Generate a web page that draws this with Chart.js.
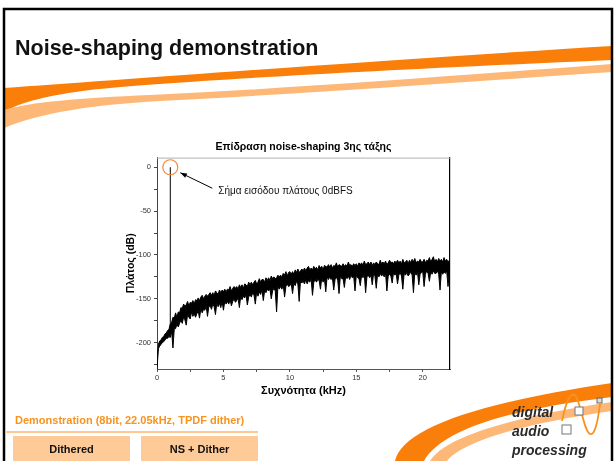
<!DOCTYPE html>
<html lang="el">
<head>
<meta charset="UTF-8">
<title>Noise-shaping demonstration</title>
<script src="https://cdn.jsdelivr.net/npm/chart.js"></script>
<style>
  body { margin: 0; background: #fff; }
  #slide { position: relative; width: 614px; height: 461px; overflow: hidden; background: #fff;
           font-family: "Liberation Sans", Arial, sans-serif; }
  #deco, #chart { position: absolute; left: 0; top: 0; }
  .txt { position: absolute; line-height: 1; white-space: nowrap; }
  #heading { left: 15px; top: 38px; font-size: 21.5px; font-weight: bold; color: #111; }
  #demo { left: 15px; top: 415px; font-size: 11px; font-weight: bold; color: #f7931e; }
  #rule { position: absolute; left: 5px; top: 431px; width: 253px; height: 2px; background: #fdc896; }
  .btn { position: absolute; top: 436px; height: 26px; width: 117px; background: #fdca98;
         display: flex; align-items: center; justify-content: center;
         font-size: 11px; font-weight: bold; color: #111; }
  .logo { position: absolute; left: 512px; font-size: 14px; font-style: italic; font-weight: bold;
          color: #2b2b2b; line-height: 1; }
</style>
</head>
<body>
<div id="slide">
  <svg id="deco" width="614" height="461">
    <!-- top swoosh -->
    <path d="M4,88 C120,80 350,62 612,46 L612,60 C380,70 160,82 90,90 C50,95 20,102 4,112 Z" fill="#fa7f0a"/>
    <path d="M4,110 C30,102 80,98 150,95 C300,88 450,76 612,64 L612,72 C450,83 300,94 160,101 C90,105 40,113 4,128 Z" fill="#fdb878"/>
    <!-- bottom right swoosh -->
    <path d="M395,461 C402,430 470,404 612,383 L612,397 C505,410 442,430 424,461 Z" fill="#fa7f0a"/>
    <path d="M430,461 C444,438 505,418 612,402 L612,411 C520,424 462,442 447,461 Z" fill="#fdb878"/>
    <!-- logo icon -->
    <path d="M562,421 C566,402 570,392 575,395 C580,399 584,432 590,434 C595,436 598,420 600,404" fill="none" stroke="#f7931e" stroke-width="1.8"/>
    <rect x="575" y="407" width="8" height="8" fill="#fff" stroke="#777" stroke-width="1"/>
    <rect x="562" y="425" width="9" height="9" fill="#fff" stroke="#777" stroke-width="1"/>
    <rect x="597" y="398" width="5" height="5" fill="#ddd" stroke="#666" stroke-width="1"/>
    <!-- slide frame -->
    <rect x="4" y="9" width="608" height="460" fill="none" stroke="#000" stroke-width="2.5"/>
  </svg>
  <canvas id="chart" width="614" height="461"></canvas>
  <div class="txt" id="heading">Noise-shaping demonstration</div>
  <div class="txt" id="demo">Demonstration (8bit, 22.05kHz, TPDF dither)</div>
  <div id="rule"></div>
  <div class="btn" style="left:13px">Dithered</div>
  <div class="btn" style="left:141px">NS + Dither</div>
  <div class="logo" style="top:405px">digital</div>
  <div class="logo" style="top:424px">audio</div>
  <div class="logo" style="top:443px">processing</div>
</div>
<script>
// noise floor, one bin every 0.1 kHz from 0 to 22 kHz:
// top and bottom edge of the dense trace (dB)
const binKHz = 0.1;
const noiseTopDb = [
  -224, -202, -198, -197, -194, -193, -190, -189, -186, -185,
  -178, -177, -171, -172, -166, -171, -165, -166, -160, -161,
  -156, -158, -157, -153, -158, -154, -155, -152, -156, -151,
  -152, -149, -152, -148, -146, -150, -147, -145, -147, -145,
  -143, -146, -143, -146, -141, -143, -145, -140, -143, -140,
  -142, -139, -142, -139, -140, -136, -141, -138, -136, -138,
  -136, -139, -134, -137, -134, -138, -133, -134, -136, -131,
  -134, -131, -134, -131, -129, -133, -131, -127, -131, -128,
  -128, -131, -126, -129, -126, -129, -124, -127, -125, -127,
  -126, -123, -125, -123, -125, -121, -123, -119, -124, -120,
  -119, -122, -119, -122, -117, -120, -116, -120, -118, -116,
  -118, -115, -118, -115, -113, -117, -115, -117, -113, -116,
  -114, -117, -112, -115, -113, -117, -112, -113, -114, -111,
  -114, -111, -115, -112, -113, -109, -114, -111, -112, -113,
  -110, -113, -111, -113, -108, -112, -111, -113, -110, -112,
  -110, -113, -109, -111, -109, -112, -107, -111, -110, -108,
  -111, -108, -112, -109, -111, -108, -110, -111, -106, -110,
  -108, -110, -107, -111, -109, -106, -109, -108, -110, -107,
  -109, -106, -109, -107, -110, -105, -109, -108, -106, -110,
  -106, -109, -105, -108, -104, -109, -107, -108, -105, -108,
  -108, -105, -109, -106, -107, -103, -108, -105, -102, -108,
  -105, -108, -104, -107, -105, -108, -103, -107, -105, -108,
  -106
];
const noiseBottomDb = [
  -231, -207, -204, -202, -200, -199, -197, -195, -195, -193,
  -194, -187, -206, -184, -184, -179, -182, -178, -174, -178,
  -171, -174, -180, -168, -171, -173, -165, -170, -167, -171,
  -167, -164, -172, -161, -166, -162, -163, -158, -170, -159,
  -158, -162, -156, -159, -168, -155, -159, -155, -160, -153,
  -163, -153, -156, -153, -156, -151, -158, -153, -150, -154,
  -152, -149, -160, -147, -151, -147, -149, -145, -157, -148,
  -145, -148, -143, -146, -156, -142, -147, -142, -145, -140,
  -152, -141, -143, -139, -141, -139, -150, -141, -138, -141,
  -165, -136, -139, -136, -139, -134, -148, -136, -133, -136,
  -135, -132, -144, -132, -135, -130, -133, -153, -129, -132,
  -130, -133, -128, -133, -129, -131, -127, -146, -131, -128,
  -131, -128, -129, -139, -126, -131, -127, -142, -125, -128,
  -125, -128, -126, -140, -128, -125, -129, -144, -124, -127,
  -127, -137, -124, -127, -124, -128, -123, -126, -124, -141,
  -123, -126, -127, -135, -123, -126, -122, -143, -125, -123,
  -126, -123, -134, -121, -124, -138, -122, -125, -121, -124,
  -122, -125, -121, -141, -124, -122, -124, -132, -120, -123,
  -121, -133, -123, -120, -124, -139, -121, -123, -120, -124,
  -122, -119, -123, -143, -120, -123, -119, -134, -122, -120,
  -119, -136, -122, -118, -121, -130, -119, -122, -118, -121,
  -121, -118, -122, -140, -119, -122, -119, -121, -118, -136,
  -120
];

// the 1 kHz input tone at 0 dBFS, from the noise floor up to its peak
const toneKHz = 1.0;
const toneDb = [-178, 0];

const xTicks = [0, 2.5, 5, 7.5, 10, 12.5, 15, 17.5, 20];
const xLabels = [0, 5, 10, 15, 20];
const yTicks = [-225, -200, -175, -150, -125, -100, -75, -50, -25, 0];
const yLabels = [-200, -150, -100, -50, 0];

const chartTitle = 'Επίδραση noise-shaping 3ης τάξης';
const xTitle = 'Συχνότητα (kHz)';
const yTitle = 'Πλάτος (dB)';
const noteText = 'Σήμα εισόδου πλάτους 0dBFS';

Chart.defaults.font.family = '"Liberation Sans", Arial, sans-serif';

// circle + arrow + note around the input tone, and the grey top frame line
const toneMarker = {
  id: 'toneMarker',
  afterDatasetsDraw(chart) {
    const { ctx, chartArea, scales: { x, y } } = chart;
    const cx = x.getPixelForValue(toneKHz);
    const cy = y.getPixelForValue(toneDb[1]);
    ctx.save();
    ctx.strokeStyle = '#b0b0b0';
    ctx.lineWidth = 1;
    ctx.beginPath();
    ctx.moveTo(chartArea.left, chartArea.top + 0.5);
    ctx.lineTo(chartArea.right, chartArea.top + 0.5);
    ctx.stroke();

    ctx.strokeStyle = '#f5883a';
    ctx.lineWidth = 1.2;
    ctx.beginPath();
    ctx.arc(cx, cy, 7.5, 0, Math.PI * 2);
    ctx.stroke();

    // arrow pointing at the circle
    const hx = cx + 10, hy = cy + 5.5, tx = cx + 42, ty = cy + 21;
    const a = Math.atan2(hy - ty, hx - tx);
    ctx.strokeStyle = '#000';
    ctx.fillStyle = '#000';
    ctx.lineWidth = 1;
    ctx.beginPath();
    ctx.moveTo(tx, ty);
    ctx.lineTo(hx, hy);
    ctx.stroke();
    ctx.beginPath();
    ctx.moveTo(hx, hy);
    ctx.lineTo(hx - 7 * Math.cos(a - 0.35), hy - 7 * Math.sin(a - 0.35));
    ctx.lineTo(hx - 7 * Math.cos(a + 0.35), hy - 7 * Math.sin(a + 0.35));
    ctx.closePath();
    ctx.fill();

    ctx.font = '10px "Liberation Sans", Arial, sans-serif';
    ctx.fillStyle = '#111';
    ctx.textAlign = 'left';
    ctx.textBaseline = 'middle';
    ctx.fillText(noteText, cx + 48, cy + 24.5);
    ctx.restore();
  }
};

const trace = { borderColor: '#000', borderWidth: 1, pointRadius: 0, tension: 0 };

new Chart(document.getElementById('chart'), {
  type: 'line',
  data: {
    datasets: [
      { ...trace, data: noiseTopDb.map((v, i) => ({ x: i * binKHz, y: v })), fill: false },
      { ...trace, data: noiseBottomDb.map((v, i) => ({ x: i * binKHz, y: v })),
        fill: '-1', backgroundColor: '#000' },
      { ...trace, data: toneDb.map(v => ({ x: toneKHz, y: v })), fill: false }
    ]
  },
  options: {
    responsive: false,
    devicePixelRatio: 1,
    animation: false,
    events: [],
    layout: { padding: { left: 100, right: 107, top: 141, bottom: 57 } },
    plugins: {
      legend: { display: false },
      tooltip: { enabled: false },
      title: {
        display: true,
        text: chartTitle,
        color: '#000',
        font: { size: 10.5, weight: 'bold' },
        padding: { top: 0, bottom: 4 }
      }
    },
    scales: {
      x: {
        type: 'linear',
        min: 0,
        max: 22.05,
        afterBuildTicks: s => { s.ticks = xTicks.map(v => ({ value: v })); },
        afterFit: s => { s.height = 35; },
        ticks: {
          autoSkip: false,
          maxRotation: 0,
          padding: 1,
          color: '#333',
          font: { size: 7.5 },
          callback: v => xLabels.includes(v) ? String(v) : ''
        },
        grid: { drawOnChartArea: false, tickLength: 3, color: '#555' },
        border: { color: '#555', width: 1 },
        title: {
          display: true, text: xTitle, color: '#000',
          font: { size: 11, weight: 'bold' },
          padding: { top: 0, bottom: 6 }
        }
      },
      y: {
        min: -230,
        max: 11,
        afterBuildTicks: s => { s.ticks = yTicks.map(v => ({ value: v })); },
        afterFit: s => { s.width = 57; },
        ticks: {
          padding: 3,
          color: '#333',
          font: { size: 7.5 },
          callback: v => yLabels.includes(v) ? String(v) : ''
        },
        grid: { drawOnChartArea: false, tickLength: 3, color: '#444' },
        border: { color: '#444', width: 1 },
        title: {
          display: true, text: yTitle, color: '#000',
          font: { size: 10.5, weight: 'bold' },
          padding: { top: 25, bottom: 0 }
        }
      },
      y2: {
        position: 'right',
        afterFit: s => { s.width = 57; },
        ticks: { display: false },
        grid: { display: false },
        border: { color: '#000', width: 1.2 }
      }
    }
  },
  plugins: [toneMarker]
});
</script>
</body>
</html>
